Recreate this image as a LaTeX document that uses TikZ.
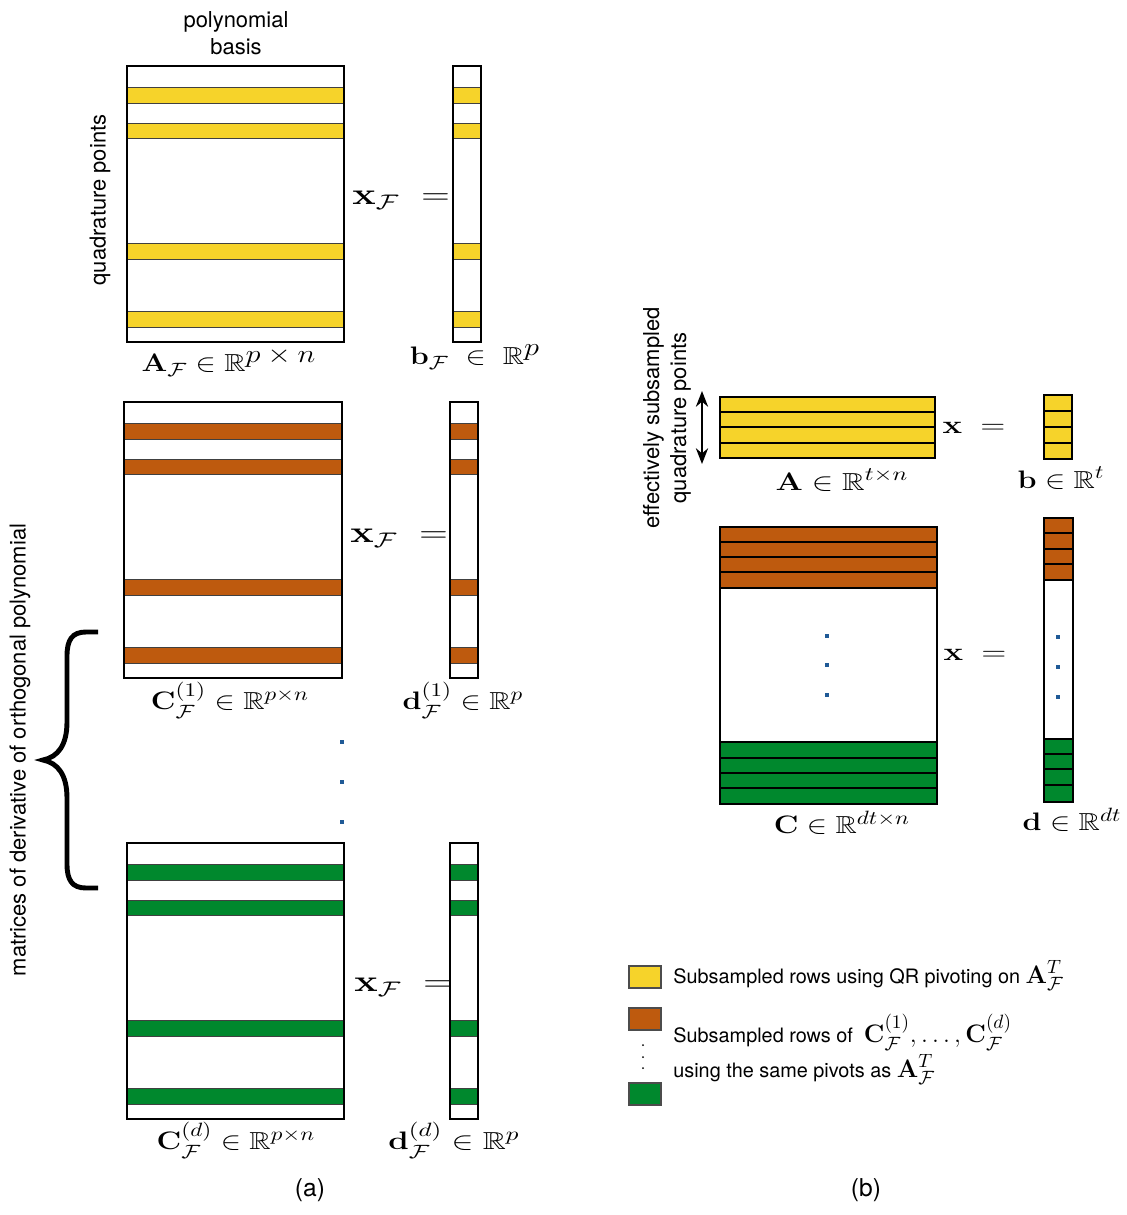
\documentclass[tikz,border=0pt]{standalone}
\usepackage[no-math]{fontspec}
\setmainfont{TeX Gyre Heros}
\usepackage{amsmath,amssymb}
\usepackage{graphicx}
\usetikzlibrary{arrows.meta}
\definecolor{myyellow}{HTML}{F6D32A}
\definecolor{myorange}{HTML}{BE5A0E}
\definecolor{mygreen}{HTML}{00882D}
\definecolor{dotblue}{HTML}{1F5A96}
\DeclareMathSizes{14}{14}{11}{8}
\DeclareMathSizes{16}{16}{12}{9}
\newcommand\mlab[2][1.2]{{\fontsize{14}{17}\selectfont\scalebox{#1}[1]{$#2$}}}
\newcommand\xlab[1]{{\fontsize{16}{19}\selectfont\scalebox{1.3}[1]{$#1$}}}
\newcommand\lmath[1]{{\fontsize{14}{17}\selectfont$#1$}}
\newcommand\stripedmat[4]{%
  \fill[white] (#1,#3) rectangle (#2,#3+276);
  \foreach \o/\h in {21/16,57/15,177/16,245/16} {
    \draw[stripe, fill=#4] (#1,#3+\o) rectangle (#2,#3+\o+\h);
  }
  \draw[matborder] (#1,#3) rectangle (#2,#3+276);
}
\newcommand\bdot[2]{\fill[dotblue] (#1-2.2,#2-2.2) rectangle (#1+2.2,#2+2.2);}
\begin{document}
\begin{tikzpicture}[x=0.02cm, y=-0.02cm,
  lab/.style={font=\fontsize{12.5}{15.4}\selectfont, inner sep=0pt},
  leg/.style={font=\fontsize{11.3}{13}\selectfont, inner sep=0pt, anchor=base west},
  mth/.style={inner sep=0pt},
  matborder/.style={line width=1.2pt},
  stripe/.style={draw=black!75, line width=0.5pt},
  rowline/.style={draw=black, line width=0.7pt}]
\useasboundingbox (0,0) rectangle (1127,1215);

% ---------- (a) ----------
\node[lab, align=center] (polyb) at (236,33) {polynomial\\basis};
\node[lab, rotate=90] (qpts) at (100,200) {quadrature points};
\node[lab, rotate=90] (mderiv) at (20,750) {matrices of derivative of orthogonal polynomial};

\stripedmat{127}{344}{66}{myyellow}
\stripedmat{453}{481}{66}{myyellow}
\stripedmat{124}{342}{402}{myorange}
\stripedmat{450}{478}{402}{myorange}
\stripedmat{127}{344}{843}{mygreen}
\stripedmat{450}{478}{843}{mygreen}

\node[mth] (xf1) at (401,200) {\xlab{\mathbf{x}_{\mathcal{F}} \;=}};
\node[mth] (xf2) at (399,538) {\xlab{\mathbf{x}_{\mathcal{F}} \;=}};
\node[mth] (xf3) at (403,987) {\xlab{\mathbf{x}_{\mathcal{F}} \;=}};

\node[mth] (lA) at (229,362) {\mlab{\mathbf{A}_{\mathcal{F}} \in \mathbb{R}^{\textstyle p\times n}}};
\node[mth] (lb) at (475,357) {\mlab{\mathbf{b}_{\mathcal{F}} \;\in\; \mathbb{R}^{\textstyle p}}};
\node[mth] (lC1) at (230,700) {\mlab{\mathbf{C}^{(1)}_{\mathcal{F}} \in \mathbb{R}^{p\times n}}};
\node[mth] (ld1) at (463,700) {\mlab{\mathbf{d}^{(1)}_{\mathcal{F}} \in \mathbb{R}^{p}}};
\node[mth] (lCd) at (236,1140) {\mlab{\mathbf{C}^{(d)}_{\mathcal{F}} \in \mathbb{R}^{p\times n}}};
\node[mth] (ldd) at (454,1140) {\mlab[1.3]{\mathbf{d}^{(d)}_{\mathcal{F}} \in \mathbb{R}^{p}}};

\bdot{342}{742}\bdot{342}{782}\bdot{342}{822}

\draw[line width=2.8pt] (98,632) -- (86,632) .. controls (72,632) and (67,640) .. (67,656)
  -- (67,722) .. controls (67,745) and (58,757) .. (43,760)
  .. controls (58,763) and (67,775) .. (67,798)
  -- (67,864) .. controls (67,880) and (72,888) .. (86,888) -- (98,888);

\node[lab, font=\fontsize{14}{17}\selectfont] (capa) at (310,1190) {(a)};

% ---------- (b) ----------
\node[lab, rotate=90, align=center] (esq) at (667,418) {effectively subsampled\\quadrature points};
\coordinate (arrT) at (702,391);
\coordinate (arrB) at (702,464);
\draw[{Stealth[length=9pt,width=7pt]}-{Stealth[length=9pt,width=7pt]}, line width=0.9pt] (arrT) -- (arrB);

% A right
\fill[myyellow] (720,397) rectangle (935,458);
\foreach \yy in {412,427,443} \draw[rowline] (720,\yy) -- (935,\yy);
\draw[matborder] (720,397) rectangle (935,458);
% b right
\fill[myyellow] (1044,395) rectangle (1072,459);
\foreach \yy in {411,427,443} \draw[rowline] (1044,\yy) -- (1072,\yy);
\draw[matborder] (1044,395) rectangle (1072,459);

\node[mth] (xr1) at (974,428) {\mlab[1.3]{\mathbf{x} \;=}};
\node[mth] (lAr) at (842,480) {\mlab[1.27]{\mathbf{A} \in \mathbb{R}^{t\times n}}};
\node[mth] (lbr) at (1061,478) {\mlab{\mathbf{b} \in \mathbb{R}^{t}}};

% C right
\fill[white] (720,527) rectangle (937,804);
\fill[myorange] (720,527) rectangle (937,588);
\fill[mygreen] (720,742) rectangle (937,804);
\foreach \yy in {542,557,572,588,742,758,773,788} \draw[rowline] (720,\yy) -- (937,\yy);
\draw[matborder] (720,527) rectangle (937,804);
% d right
\fill[white] (1044,518) rectangle (1073,802);
\fill[myorange] (1044,518) rectangle (1073,580);
\fill[mygreen] (1044,739) rectangle (1073,802);
\foreach \yy in {533,549,564,580,739,754,769,785} \draw[rowline] (1044,\yy) -- (1073,\yy);
\draw[matborder] (1044,518) rectangle (1073,802);

\bdot{827}{636}\bdot{827}{665}\bdot{827}{695}
\bdot{1058}{637}\bdot{1058}{667}\bdot{1058}{697}

\node[mth] (xr2) at (975,655) {\mlab[1.3]{\mathbf{x} \;=}};
\node[mth] (lCr) at (842,823) {\mlab{\mathbf{C} \in \mathbb{R}^{dt\times n}}};
\node[mth] (ldr) at (1072,820) {\mlab{\mathbf{d} \in \mathbb{R}^{dt}}};

% legend
\draw[fill=myyellow, draw=black!70, line width=0.6pt] (629,966) rectangle (661,988);
\draw[fill=myorange, draw=black!70, line width=0.6pt] (629,1008) rectangle (661,1030);
\draw[fill=mygreen, draw=black!70, line width=0.6pt] (629,1083) rectangle (661,1105);
\fill (643,1045) circle (1);
\fill (643,1057) circle (1);
\fill (643,1068) circle (1);
\node[leg] (leg1) at (673,983) {Subsampled rows using QR pivoting on \lmath{\mathbf{A}^{T}_{\mathcal{F}}}};
\node[leg] (leg2) at (673,1042) {Subsampled rows of \ \lmath{\mathbf{C}^{(1)}_{\mathcal{F}},\ldots,\mathbf{C}^{(d)}_{\mathcal{F}}}};
\node[leg] (leg3) at (673,1077) {using the same pivots as \lmath{\mathbf{A}^{T}_{\mathcal{F}}}};

\node[lab, font=\fontsize{14}{17}\selectfont] (capb) at (866,1190) {(b)};
\end{tikzpicture}
\end{document}
